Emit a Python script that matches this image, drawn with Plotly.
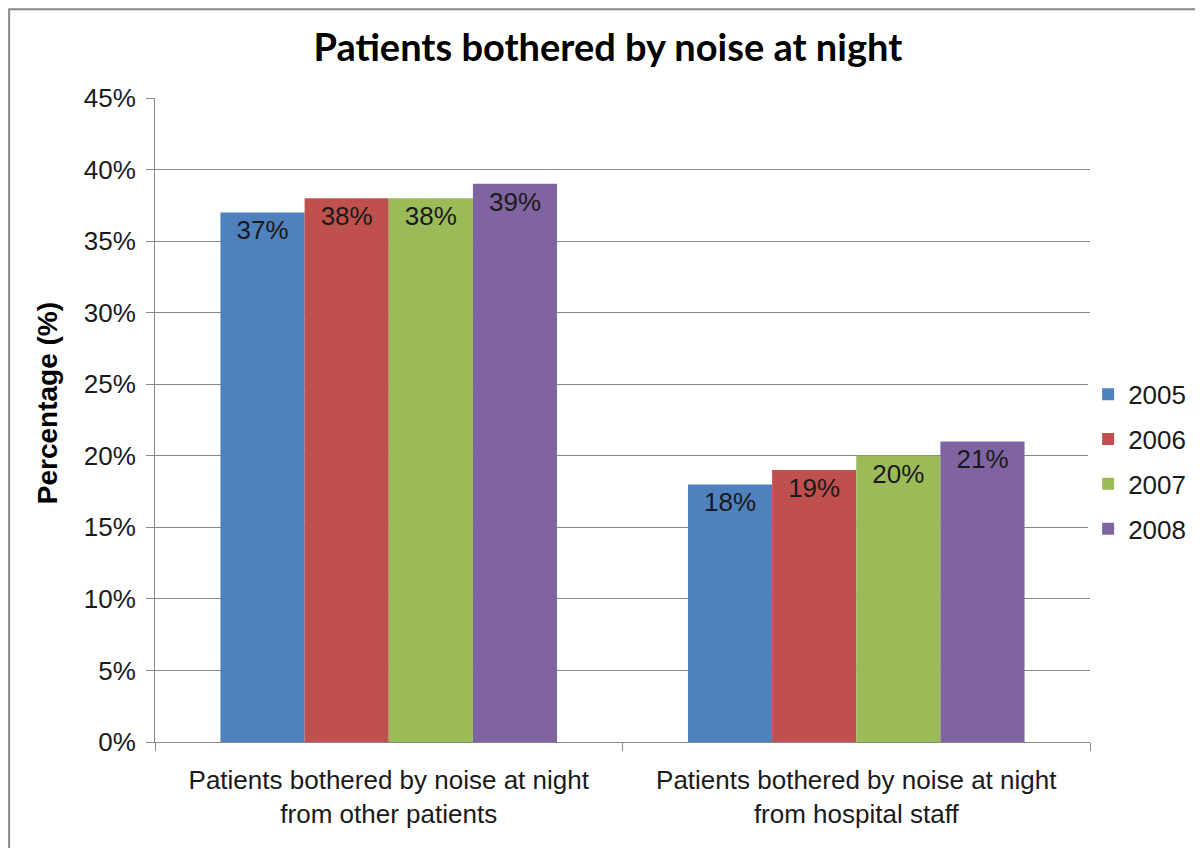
import plotly.graph_objects as go

categories = [
    "Patients bothered by noise at night<br>from other patients",
    "Patients bothered by noise at night<br>from hospital staff",
]
years = ["2005", "2006", "2007", "2008"]
values = {
    "2005": [37, 18],
    "2006": [38, 19],
    "2007": [38, 20],
    "2008": [39, 21],
}
COLORS = ["#4F81BD", "#C0504D", "#9BBB59", "#8064A2"]
y_ticks = [0, 5, 10, 15, 20, 25, 30, 35, 40, 45]

FONT = "Liberation Sans, Arial, sans-serif"
GREY = "#888888"

fig = go.Figure()
for i, yr in enumerate(years):
    fig.add_trace(go.Bar(
        name=yr,
        x=categories,
        y=values[yr],
        marker=dict(color=COLORS[i], line=dict(width=0)),
        text=[f"{v}%" for v in values[yr]],
        textposition="inside",
        insidetextanchor="end",
        textangle=0,
        textfont=dict(size=26, color="#1a1a1a", family=FONT),
        legendgroup=yr,
    ))

# page body adds an 8px offset, so the figure is a bit smaller than the window
fig.update_layout(
    width=1195,
    height=840,
    barmode="group",
    bargap=0.28,
    bargroupgap=0,
    plot_bgcolor="white",
    paper_bgcolor="white",
    margin=dict(l=147, r=113, t=90, b=106),
    title=dict(
        text="<b>Patients bothered by noise at night</b>",
        x=0.502,
        xanchor="center",
        y=0.953,
        yanchor="middle",
        font=dict(size=38, family="Lato, Open Sans, sans-serif", color="#000000"),
    ),
    legend=dict(
        x=0.998,
        y=0.435,
        yanchor="middle",
        xanchor="left",
        traceorder="grouped",
        tracegroupgap=8,
        font=dict(size=26, family=FONT, color="#1a1a1a"),
        itemwidth=30,
    ),
    uniformtext=dict(mode="show", minsize=10),
    annotations=[dict(
        text="<b>Percentage (%)</b>",
        xref="paper", yref="paper",
        x=-0.1155, y=0.526,
        xanchor="center", yanchor="middle",
        textangle=-90,
        showarrow=False,
        font=dict(size=28, family=FONT, color="#000000"),
    )],
)

fig.update_yaxes(
    range=[0, 45],
    tickvals=y_ticks,
    ticktext=[f"{t}%" for t in y_ticks],
    showgrid=True,
    gridcolor=GREY,
    gridwidth=1,
    showline=True,
    linecolor=GREY,
    linewidth=1,
    ticks="outside",
    ticklen=8,
    tickcolor=GREY,
    ticklabelstandoff=5,
    tickfont=dict(size=26, family=FONT, color="#1a1a1a"),
    zeroline=False,
)

fig.update_xaxes(
    showline=True,
    linecolor=GREY,
    linewidth=1,
    ticks="outside",
    tickson="boundaries",
    ticklen=8,
    tickcolor=GREY,
    ticklabelstandoff=15,
    tickfont=dict(size=26, family=FONT, color="#1a1a1a"),
)

# chart area border, as in the spreadsheet export
fig.add_shape(
    type="rect",
    xref="paper", yref="paper",
    x0=-0.156, x1=1.2, y0=-0.3, y1=1.138,
    line=dict(color=GREY, width=2),
    fillcolor="rgba(0,0,0,0)",
    layer="below",
)

fig.write_html("out.html")
